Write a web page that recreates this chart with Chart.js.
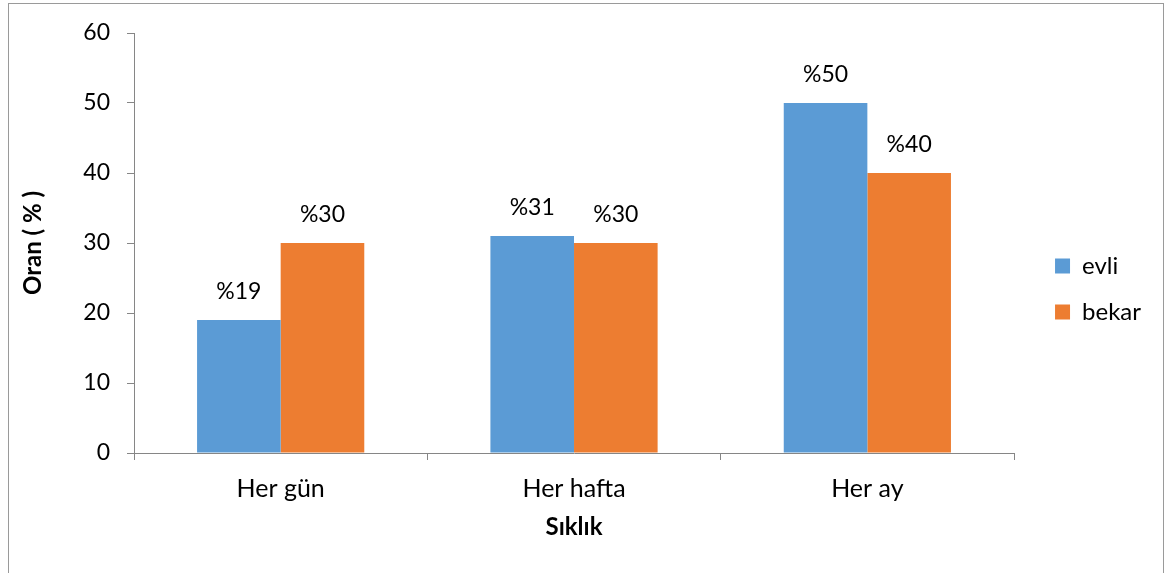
<!DOCTYPE html>
<html>
<head>
<meta charset="utf-8">
<script src="https://cdn.jsdelivr.net/npm/chart.js@4"></script>
<style>
  html, body { margin: 0; padding: 0; background: #fff; }
  #wrap { width: 1165px; height: 573px; }
</style>
</head>
<body>
<div id="wrap"><canvas id="myChart" width="1165" height="573"></canvas></div>
<script>
const labels = ['Her gün', 'Her hafta', 'Her ay'];
const evli = [19, 31, 50];
const bekar = [30, 30, 40];
const yTicks = [0, 10, 20, 30, 40, 50, 60];

const FONT = 'Lato, "Open Sans", sans-serif';
const axisGray = '#868686';

// outer frame of the chart object
const frame = {
    id: 'frame',
    beforeDraw(chart) {
        const c = chart.ctx;
        c.save();
        c.fillStyle = '#fff';
        c.fillRect(0, 0, chart.width, chart.height);
        c.strokeStyle = '#9a9a9a';
        c.lineWidth = 1;
        c.strokeRect(8.5, 3.5, 1155, 620);
        c.restore();
    }
};

// "%nn" labels above every bar
const valueLabels = {
    id: 'valueLabels',
    afterDatasetsDraw(chart) {
        const c = chart.ctx;
        c.save();
        c.font = '23px ' + FONT;
        c.fillStyle = '#000';
        c.textAlign = 'center';
        c.textBaseline = 'middle';
        chart.data.datasets.forEach((ds, i) => {
            chart.getDatasetMeta(i).data.forEach((bar, j) => {
                c.fillText('%' + ds.data[j], bar.x, bar.y - 28);
            });
        });
        c.restore();
    }
};

const ctx = document.getElementById('myChart').getContext('2d');
const chart = new Chart(ctx, {
    type: 'bar',
    data: {
        labels: labels,
        datasets: [
            { label: 'evli', data: evli, backgroundColor: '#5B9BD5' },
            { label: 'bekar', data: bekar, backgroundColor: '#ED7D31' }
        ]
    },
    options: {
        animation: false,
        responsive: false,
        layout: { padding: { top: 33, left: 0, right: 14, bottom: 28 } },
        datasets: { bar: { categoryPercentage: 0.57, barPercentage: 1.0 } },
        plugins: {
            tooltip: { enabled: false },
            legend: {
                position: 'right',
                labels: {
                    boxWidth: 15,
                    boxHeight: 15,
                    padding: 22,
                    color: '#000',
                    font: { family: FONT, size: 24 }
                }
            }
        },
        scales: {
            x: {
                afterFit: s => { s.height = 92; },
                border: { display: true, color: axisGray, width: 1 },
                grid: { offset: true, drawOnChartArea: false, drawTicks: true, tickLength: 7, color: axisGray },
                ticks: { color: '#000', padding: 14, font: { family: FONT, size: 25 } },
                title: {
                    display: true, text: 'Sıklık', color: '#000',
                    font: { family: FONT, size: 24, weight: 'bold' },
                    padding: { top: 0, bottom: 3 }
                }
            },
            y: {
                min: 0, max: 60,
                afterFit: s => { s.width = 134; },
                afterBuildTicks: s => { s.ticks = yTicks.map(v => ({ value: v })); },
                border: { display: true, color: axisGray, width: 1 },
                grid: { drawOnChartArea: false, drawTicks: true, tickLength: 7, color: axisGray },
                ticks: { color: '#000', padding: 17, font: { family: FONT, size: 23 } },
                title: {
                    display: true, text: 'Oran ( % )', color: '#000',
                    font: { family: FONT, size: 24, weight: 'bold' },
                    padding: { top: 19, bottom: 0 }
                }
            },
            // empty spacer between plot area and legend
            gap: {
                type: 'linear',
                position: 'right',
                afterFit: s => { s.width = 19; },
                grid: { display: false },
                border: { display: false },
                ticks: { display: false }
            }
        }
    },
    plugins: [frame, valueLabels]
});
</script>
</body>
</html>
